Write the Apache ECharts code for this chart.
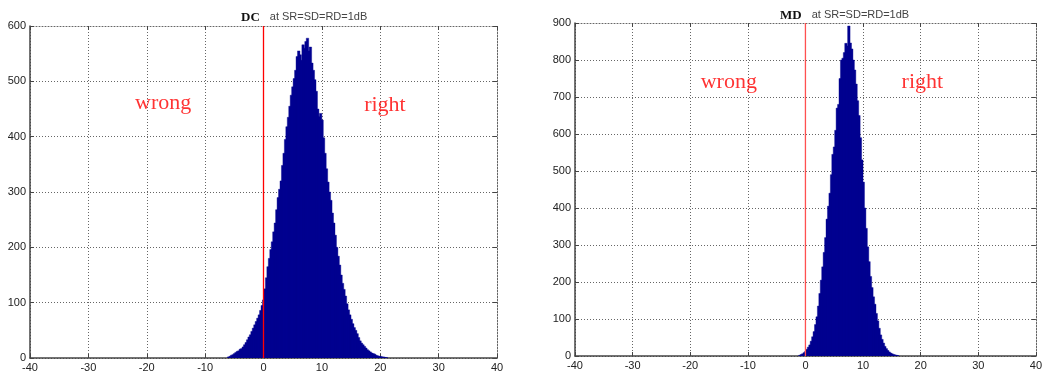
<!DOCTYPE html>
<html>
<head>
<meta charset="utf-8">
<script src="https://cdn.jsdelivr.net/npm/echarts@6/dist/echarts.min.js"></script>
<style>
html,body{margin:0;padding:0;background:#fff;}
#c{width:1045px;height:378px;}
</style>
</head>
<body>
<div id="c"></div>
<script>
// ---- data ----
const binWidth = 0.25;
const xTicks = [-40, -30, -20, -10, 0, 10, 20, 30, 40];
const dcYTicks = [0, 100, 200, 300, 400, 500, 600];
const mdYTicks = [0, 100, 200, 300, 400, 500, 600, 700, 800, 900];
const dcYMax = 600;
const mdYMax = 900;
const thresholdX = 0;

const dcFirstCenter = -6;
const dcCounts = [
  2, 3, 5, 6, 8, 10, 12, 13, 16, 17, 20, 24, 28, 33, 38, 42, 48, 54, 60, 66,
  72, 78, 86, 95, 105, 125, 145, 165, 180, 196, 210, 228, 244, 268, 290, 305,
  320, 348, 370, 395, 418, 435, 455, 475, 490, 505, 520, 545, 555, 548, 538,
  566, 560, 572, 578, 555, 562, 533, 520, 503, 482, 450, 436, 442, 430, 398,
  370, 342, 318, 300, 285, 262, 244, 222, 200, 184, 168, 150, 135, 124, 112,
  98, 87, 78, 70, 62, 55, 50, 44, 37, 31, 27, 24, 21, 18, 15, 13, 11, 9, 8,
  7, 5, 4, 3, 3, 2, 2, 1, 1
];

const mdFirstCenter = -1;
const mdCounts = [
  2, 4, 6, 9, 12, 18, 24, 30, 40, 52, 66, 85, 106, 135, 169, 205, 241, 280,
  320, 370, 405, 440, 490, 545, 565, 610, 670, 680, 750, 800, 805, 820, 845,
  838, 892, 846, 830, 800, 773, 735, 690, 650, 590, 530, 470, 400, 345, 295,
  255, 215, 185, 160, 140, 115, 95, 75, 57, 45, 35, 26, 20, 15, 11, 8, 6, 4,
  3, 2, 1
];

const titlesMain = ['DC', 'MD'];
const titleSub = 'at SR=SD=RD=1dB';
const regionWords = ['wrong', 'right'];
const dcWordPos = [[-17.2, 461], [20.8, 457]];
const mdWordPos = [[-13.3, 740], [20.3, 740]];

// ---- build ----
function bins(first, counts) {
  return counts.map((c, i) => {
    const ctr = first + i * binWidth;
    return [ctr - binWidth / 2, ctr + binWidth / 2, c];
  });
}

const barColor = '#000090';
function renderBar(params, api) {
  const a = api.coord([api.value(0), api.value(2)]);
  const b = api.coord([api.value(1), 0]);
  return {
    type: 'rect',
    shape: { x: a[0] - 0.3, y: a[1], width: (b[0] - a[0]) + 1.0, height: b[1] - a[1] },
    style: { fill: barColor, stroke: barColor, lineWidth: 0.4 }
  };
}

const labelFont = { color: '#222', fontSize: 11, fontFamily: 'Liberation Sans, Arial, sans-serif' };
const gridLine = { show: true, lineStyle: { color: '#666', type: [1, 2], width: 1 } };
const axisLineStyle = { show: true, onZero: false, lineStyle: { color: '#444', width: 1.5 } };

function xAxes(gi) {
  return [
    {
      type: 'value', gridIndex: gi, min: -40, max: 40, interval: 10,
      axisLine: axisLineStyle,
      axisTick: { show: true, inside: true, length: 4, lineStyle: { color: '#444' } },
      axisLabel: Object.assign({ margin: 4, formatter: v => xTicks.includes(v) ? String(v) : '' }, labelFont),
      splitLine: gridLine
    },
    {
      type: 'value', gridIndex: gi, position: 'top', min: -40, max: 40, interval: 10,
      axisLine: { show: true, onZero: false, lineStyle: { color: '#666', type: [1, 2] } },
      axisTick: { show: true, inside: true, length: 4, lineStyle: { color: '#444' } },
      axisLabel: { show: false }, splitLine: { show: false }
    }
  ];
}
function yAxes(gi, max, ticks) {
  return [
    {
      type: 'value', gridIndex: gi, min: 0, max: max, interval: 100,
      axisLine: axisLineStyle,
      axisTick: { show: true, inside: true, length: 4, lineStyle: { color: '#444' } },
      axisLabel: Object.assign({ margin: 4, formatter: v => ticks.includes(v) ? String(v) : '' }, labelFont),
      splitLine: gridLine
    },
    {
      type: 'value', gridIndex: gi, position: 'right', min: 0, max: max, interval: 100,
      axisLine: { show: true, onZero: false, lineStyle: { color: '#666', type: [1, 2] } },
      axisTick: { show: true, inside: true, length: 4, lineStyle: { color: '#444' } },
      axisLabel: { show: false }, splitLine: { show: false }
    }
  ];
}

function panelSeries(xi, yi, data, yMax, words, pos, redColor) {
  return [
    {
      type: 'custom', xAxisIndex: xi, yAxisIndex: yi, z: 2,
      renderItem: renderBar, encode: { x: [0, 1], y: 2 },
      data: data, silent: true, clip: true
    },
    {
      type: 'line', xAxisIndex: xi, yAxisIndex: yi, silent: true, z: 10,
      data: [[thresholdX, 0], [thresholdX, yMax]],
      showSymbol: false, symbol: 'none', color: redColor,
      itemStyle: { color: redColor },
      lineStyle: { color: redColor, width: 1.3, type: 'solid', opacity: 1 }
    },
    {
      type: 'scatter', xAxisIndex: xi, yAxisIndex: yi, symbolSize: 0, silent: true, z: 11,
      data: pos.map((p, i) => ({ value: p, name: words[i] })),
      label: {
        show: true, position: 'inside', formatter: p => p.name,
        color: '#ff0000', fontSize: 22, fontFamily: 'Liberation Serif, Times New Roman, serif'
      }
    }
  ];
}

const chart = echarts.init(document.getElementById('c'), null, { renderer: 'canvas' });
const titleRich = {
  a: { fontFamily: 'Liberation Serif, Times New Roman, serif', fontWeight: 'bold', fontSize: 13, color: '#111' },
  b: { fontFamily: 'Liberation Sans, Arial, sans-serif', fontWeight: 'normal', fontSize: 11, color: '#444', padding: [0, 0, 2, 0] }
};
chart.setOption({
  animation: false,
  backgroundColor: '#fff',
  title: [
    { text: '{a|' + titlesMain[0] + '}  {b|' + titleSub + '}', left: 236, top: 4, textStyle: { rich: titleRich } },
    { text: '{a|' + titlesMain[1] + '}  {b|' + titleSub + '}', left: 775, top: 2, textStyle: { rich: titleRich } }
  ],
  grid: [
    { left: 30, right: 548, top: 26, bottom: 20 },
    { left: 575, right: 3, top: 23, bottom: 22 }
  ],
  xAxis: [...xAxes(0), ...xAxes(1)],
  yAxis: [...yAxes(0, dcYMax, dcYTicks), ...yAxes(1, mdYMax, mdYTicks)],
  series: [
    ...panelSeries(0, 0, bins(dcFirstCenter, dcCounts), dcYMax, regionWords, dcWordPos, '#ff0000'),
    ...panelSeries(2, 2, bins(mdFirstCenter, mdCounts), mdYMax, regionWords, mdWordPos, '#ff5050')
  ]
});
</script>
</body>
</html>
